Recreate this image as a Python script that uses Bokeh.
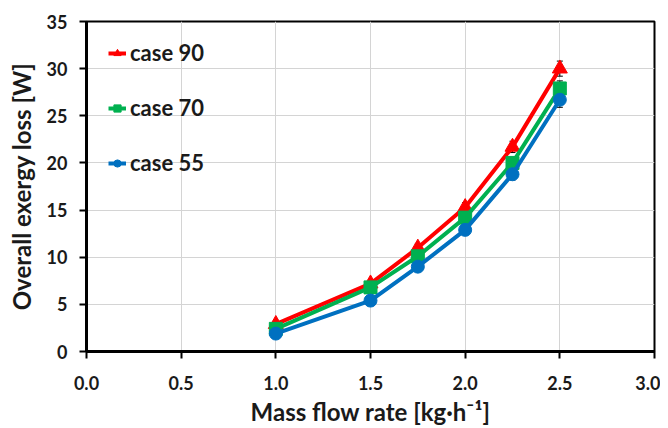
from bokeh.plotting import figure
from bokeh.models import (Legend, LegendItem, ColumnDataSource, Whisker,
                          FixedTicker, Range1d)
from bokeh.embed import file_html
from bokeh.resources import INLINE

flow = [1.0, 1.5, 1.75, 2.0, 2.25, 2.5]
case90 = [2.9, 7.2, 11.0, 15.3, 21.7, 30.0]
case70 = [2.4, 6.8, 10.1, 14.2, 20.0, 27.9]
case55 = [1.9, 5.4, 9.0, 12.9, 18.8, 26.7]
err90 = [0.3, 0.3, 0.4, 0.5, 0.6, 0.8]
err70 = [0.3, 0.3, 0.4, 0.5, 0.6, 0.8]
err55 = [0.3, 0.3, 0.4, 0.5, 0.6, 0.8]
labels = ["case 90", "case 70", "case 55"]
x_ticks = [0.0, 0.5, 1.0, 1.5, 2.0, 2.5, 3.0]
y_ticks = [0, 5, 10, 15, 20, 25, 30, 35]

FONT = "Lato"

p = figure(width=660, height=428, output_backend="svg", toolbar_location=None,
           x_range=Range1d(0, 3), y_range=Range1d(0, 35),
           min_border_left=86, min_border_right=6, min_border_top=21,
           min_border_bottom=66)

p.outline_line_color = "black"
p.outline_line_width = 2
p.outline_line_alpha = 1

for ax in (p.xaxis[0], p.yaxis[0]):
    ax.axis_line_width = 3
    ax.axis_line_color = "black"
    ax.major_tick_line_width = 2
    ax.major_tick_line_color = "black"
    ax.major_tick_out = 7
    ax.major_tick_in = 0
    ax.minor_tick_line_color = None
    ax.major_label_text_font = FONT
    ax.major_label_text_font_style = "bold"
    ax.major_label_text_font_size = "18px"
    ax.major_label_text_color = "#1a1a1a"
    ax.axis_label_text_font = FONT
    ax.axis_label_text_font_style = "bold"
    ax.axis_label_text_font_size = "24px"
    ax.axis_label_text_color = "#1a1a1a"

p.xaxis.ticker = FixedTicker(ticks=x_ticks)
p.yaxis.ticker = FixedTicker(ticks=y_ticks)
p.xaxis.major_label_overrides = {t: f"{t:.1f}" for t in x_ticks}
p.xaxis.major_label_standoff = 17
p.yaxis.major_label_standoff = 12
p.xaxis.axis_label = "Mass flow rate [kg·h⁻¹]"
p.yaxis.axis_label = "Overall exergy loss [W]"
p.xaxis.axis_label_standoff = 4
p.yaxis.axis_label_standoff = 8

p.xgrid.ticker = FixedTicker(ticks=x_ticks)
p.ygrid.ticker = FixedTicker(ticks=y_ticks)
p.grid.grid_line_color = "#d4d4d4"
p.grid.grid_line_width = 1

series = [
    (case90, err90, "#ff0000", "triangle", 15),
    (case70, err70, "#00b050", "square", 13),
    (case55, err55, "#0070c0", "circle", 13),
]

items = []
for (vals, err, color, marker, size), lab in zip(series, labels):
    src = ColumnDataSource(dict(
        x=flow, y=vals,
        lo=[v - e for v, e in zip(vals, err)],
        hi=[v + e for v, e in zip(vals, err)]))
    w = Whisker(source=src, base="x", lower="lo", upper="hi",
                line_color="black", line_width=1)
    w.upper_head.size = 6
    w.lower_head.size = 6
    w.upper_head.line_color = "black"
    w.lower_head.line_color = "black"
    p.add_layout(w)
    lr = p.line("x", "y", source=src, line_color=color, line_width=4)
    mr = p.scatter("x", "y", source=src, marker=marker, size=size,
                   fill_color=color, line_color=color)
    items.append(LegendItem(label=lab, renderers=[lr, mr]))

legend = Legend(items=items, location=(22, 175), orientation="vertical")
legend.background_fill_alpha = 0
legend.border_line_color = None
legend.padding = 0
legend.margin = 0
legend.spacing = 28
legend.glyph_width = 18
legend.glyph_height = 22
legend.label_height = 22
legend.label_standoff = 4
legend.label_text_font = FONT
legend.label_text_font_style = "bold"
legend.label_text_font_size = "22px"
legend.label_text_color = "#1a1a1a"
p.add_layout(legend, "center")

open("out.html", "w").write(file_html(p, INLINE))
